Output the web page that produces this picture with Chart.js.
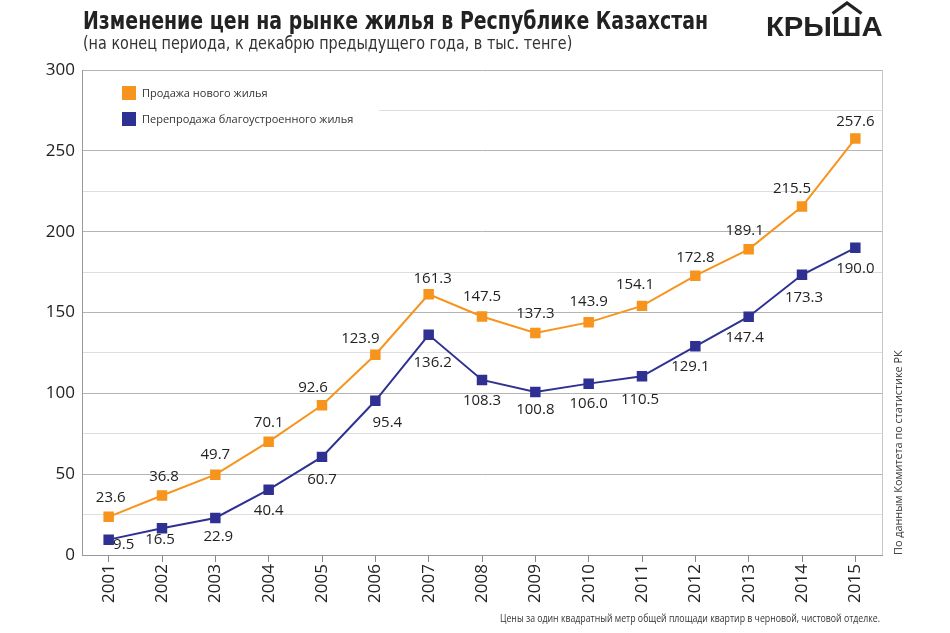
<!DOCTYPE html>
<html lang="ru">
<head>
<meta charset="UTF-8">
<title>Изменение цен на рынке жилья</title>
<script src="https://cdn.jsdelivr.net/npm/chart.js"></script>
<style>
  body { margin: 0; background: #fff; }
  #wrap { position: relative; width: 950px; height: 633px; overflow: hidden; }
  #c { position: absolute; left: 0; top: 0; }
  .fit { position: absolute; white-space: nowrap; transform-origin: 0 0; }
  .title { left: 83px; top: 6px; font-family: "Liberation Sans Narrow", "DejaVu Sans Condensed", sans-serif; font-weight: bold; font-size: 25px; color: #222; }
  .sub { left: 83px; top: 33px; font-family: "Liberation Sans Narrow", "DejaVu Sans Condensed", sans-serif; font-size: 17px; color: #333; }
  .logo { left: 766px; top: 11px; font-family: "Liberation Sans", Arial, sans-serif; font-weight: bold; font-size: 28px; color: #222; }
  .hat { position: absolute; left: 831px; top: 1px; }
  .src { left: 890px; top: 555px; font-family: "Open Sans", sans-serif; font-size: 11px; color: #333; }
  .note { left: 500px; top: 611px; font-family: "Open Sans", sans-serif; font-size: 10.5px; color: #333; }
</style>
</head>
<body>
<div id="wrap">
  <canvas id="c" width="950" height="633"></canvas>
  <div class="fit title" data-w="625">Изменение цен на рынке жилья в Республике Казахстан</div>
  <div class="fit sub" data-w="489">(на конец периода, к декабрю предыдущего года, в тыс. тенге)</div>
  <div class="fit logo" data-w="117">КРЫША</div>
  <svg class="hat" width="32" height="14"><polyline points="1.5,12.5 16,2 30.5,12.5" fill="none" stroke="#222" stroke-width="3.2"/></svg>
  <div class="fit src" data-w="205" data-rot="1">По данным Комитета по статистике РК</div>
  <div class="fit note" data-w="380">Цены за один квадратный метр общей площади квартир в черновой, чистовой отделке.</div>
</div>
<script>
const years = ['2001','2002','2003','2004','2005','2006','2007','2008','2009','2010','2011','2012','2013','2014','2015'];
const newHousing = [23.6, 36.8, 49.7, 70.1, 92.6, 123.9, 161.3, 147.5, 137.3, 143.9, 154.1, 172.8, 189.1, 215.5, 257.6];
const resale = [9.5, 16.5, 22.9, 40.4, 60.7, 95.4, 136.2, 108.3, 100.8, 106.0, 110.5, 129.1, 147.4, 173.3, 190.0];
const seriesNames = ['Продажа нового жилья', 'Перепродажа благоустроенного жилья'];

const ORANGE = '#f7941d';
const BLUE = '#2e3192';

// сдвиги подписей относительно точек (как в оригинале)
const labelShift = [
    { dx: [2, 2, 0, 0, -9, -15, 4, 0, 0, 0, -7, 0, -4, -10, 0],
      dy: [-19, -19, -20, -19, -18, -16, -15, -20, -19, -21, -21, -18, -19, -18, -17] },
    { dx: [15, -2, 3, 0, 0, 12, 4, 0, 0, 0, -2, -5, -4, 2, 0],
      dy: [5, 11, 19, 21, 23, 22, 28, 21, 18, 20, 23, 20, 21, 23, 21] }
];

// подгоняем ширину надписей под оригинал (узкого шрифта нет)
document.querySelectorAll('.fit').forEach(el => {
    const k = el.dataset.w / el.offsetWidth;
    el.style.transform = el.dataset.rot ? 'rotate(-90deg) scaleX(' + k + ')' : 'scaleX(' + k + ')';
});

// подписи значений, рамка справа и легенда внутри графика
const extras = {
    id: 'extras',
    beforeDatasetsDraw(chart) {
        const ctx = chart.ctx, a = chart.chartArea;
        ctx.save();
        ctx.fillStyle = '#fff';
        ctx.fillRect(a.left + 1, 75, 296, 60);
        ctx.strokeStyle = '#c8c8c8';
        ctx.lineWidth = 1;
        ctx.beginPath();
        ctx.moveTo(a.right + 0.5, a.top);
        ctx.lineTo(a.right + 0.5, a.bottom);
        ctx.stroke();
        // легенда
        ctx.font = '11px "Open Sans", sans-serif';
        ctx.textBaseline = 'middle';
        chart.data.datasets.forEach((ds, i) => {
            const y = 93 + i * 26;
            ctx.fillStyle = ds.borderColor;
            ctx.fillRect(122, y - 7, 14, 14);
            ctx.fillStyle = '#333';
            ctx.fillText(ds.label, 142, y + 1);
        });
        ctx.restore();
    },
    afterDatasetsDraw(chart) {
        const ctx = chart.ctx;
        ctx.save();
        ctx.font = '15px "Open Sans", sans-serif';
        ctx.fillStyle = '#222';
        ctx.textAlign = 'center';
        ctx.textBaseline = 'middle';
        chart.data.datasets.forEach((ds, i) => {
            const meta = chart.getDatasetMeta(i);
            meta.data.forEach((pt, j) => {
                const s = labelShift[i];
                ctx.fillText(ds.data[j].toFixed(1), pt.x + s.dx[j], pt.y + s.dy[j]);
            });
        });
        ctx.restore();
    }
};

new Chart(document.getElementById('c'), {
    type: 'line',
    data: {
        labels: years,
        datasets: [{
            label: seriesNames[0],
            data: newHousing,
            borderColor: ORANGE,
            backgroundColor: ORANGE,
            borderWidth: 2,
            pointStyle: 'rect',
            pointRadius: 6,
            pointHoverRadius: 6
        }, {
            label: seriesNames[1],
            data: resale,
            borderColor: BLUE,
            backgroundColor: BLUE,
            borderWidth: 2,
            pointStyle: 'rect',
            pointRadius: 6,
            pointHoverRadius: 6
        }]
    },
    options: {
        responsive: false,
        animation: false,
        devicePixelRatio: 1,
        layout: { padding: { top: 70, right: 68, left: 0, bottom: 0 } },
        plugins: { legend: { display: false }, tooltip: { enabled: false } },
        scales: {
            x: {
                offset: true,
                grid: { drawOnChartArea: false, tickLength: 7, color: '#888' },
                border: { color: '#999' },
                ticks: {
                    minRotation: 90, maxRotation: 90, padding: 2,
                    color: '#222',
                    font: { family: '"Open Sans", sans-serif', size: 17 }
                },
                afterFit(scale) { scale.height = 78; }
            },
            y: {
                min: 0, max: 300,
                ticks: {
                    stepSize: 25,
                    padding: 7,
                    color: '#222',
                    font: { family: '"Open Sans", sans-serif', size: 17 },
                    callback: v => v % 50 === 0 ? v : ''
                },
                grid: {
                    drawTicks: false,
                    color: c => c.tick.value % 50 === 0 ? '#b4b4b4' : '#dedede'
                },
                border: { color: '#999' },
                afterFit(scale) { scale.width = 82; }
            }
        }
    },
    plugins: [extras]
});
</script>
</body>
</html>
